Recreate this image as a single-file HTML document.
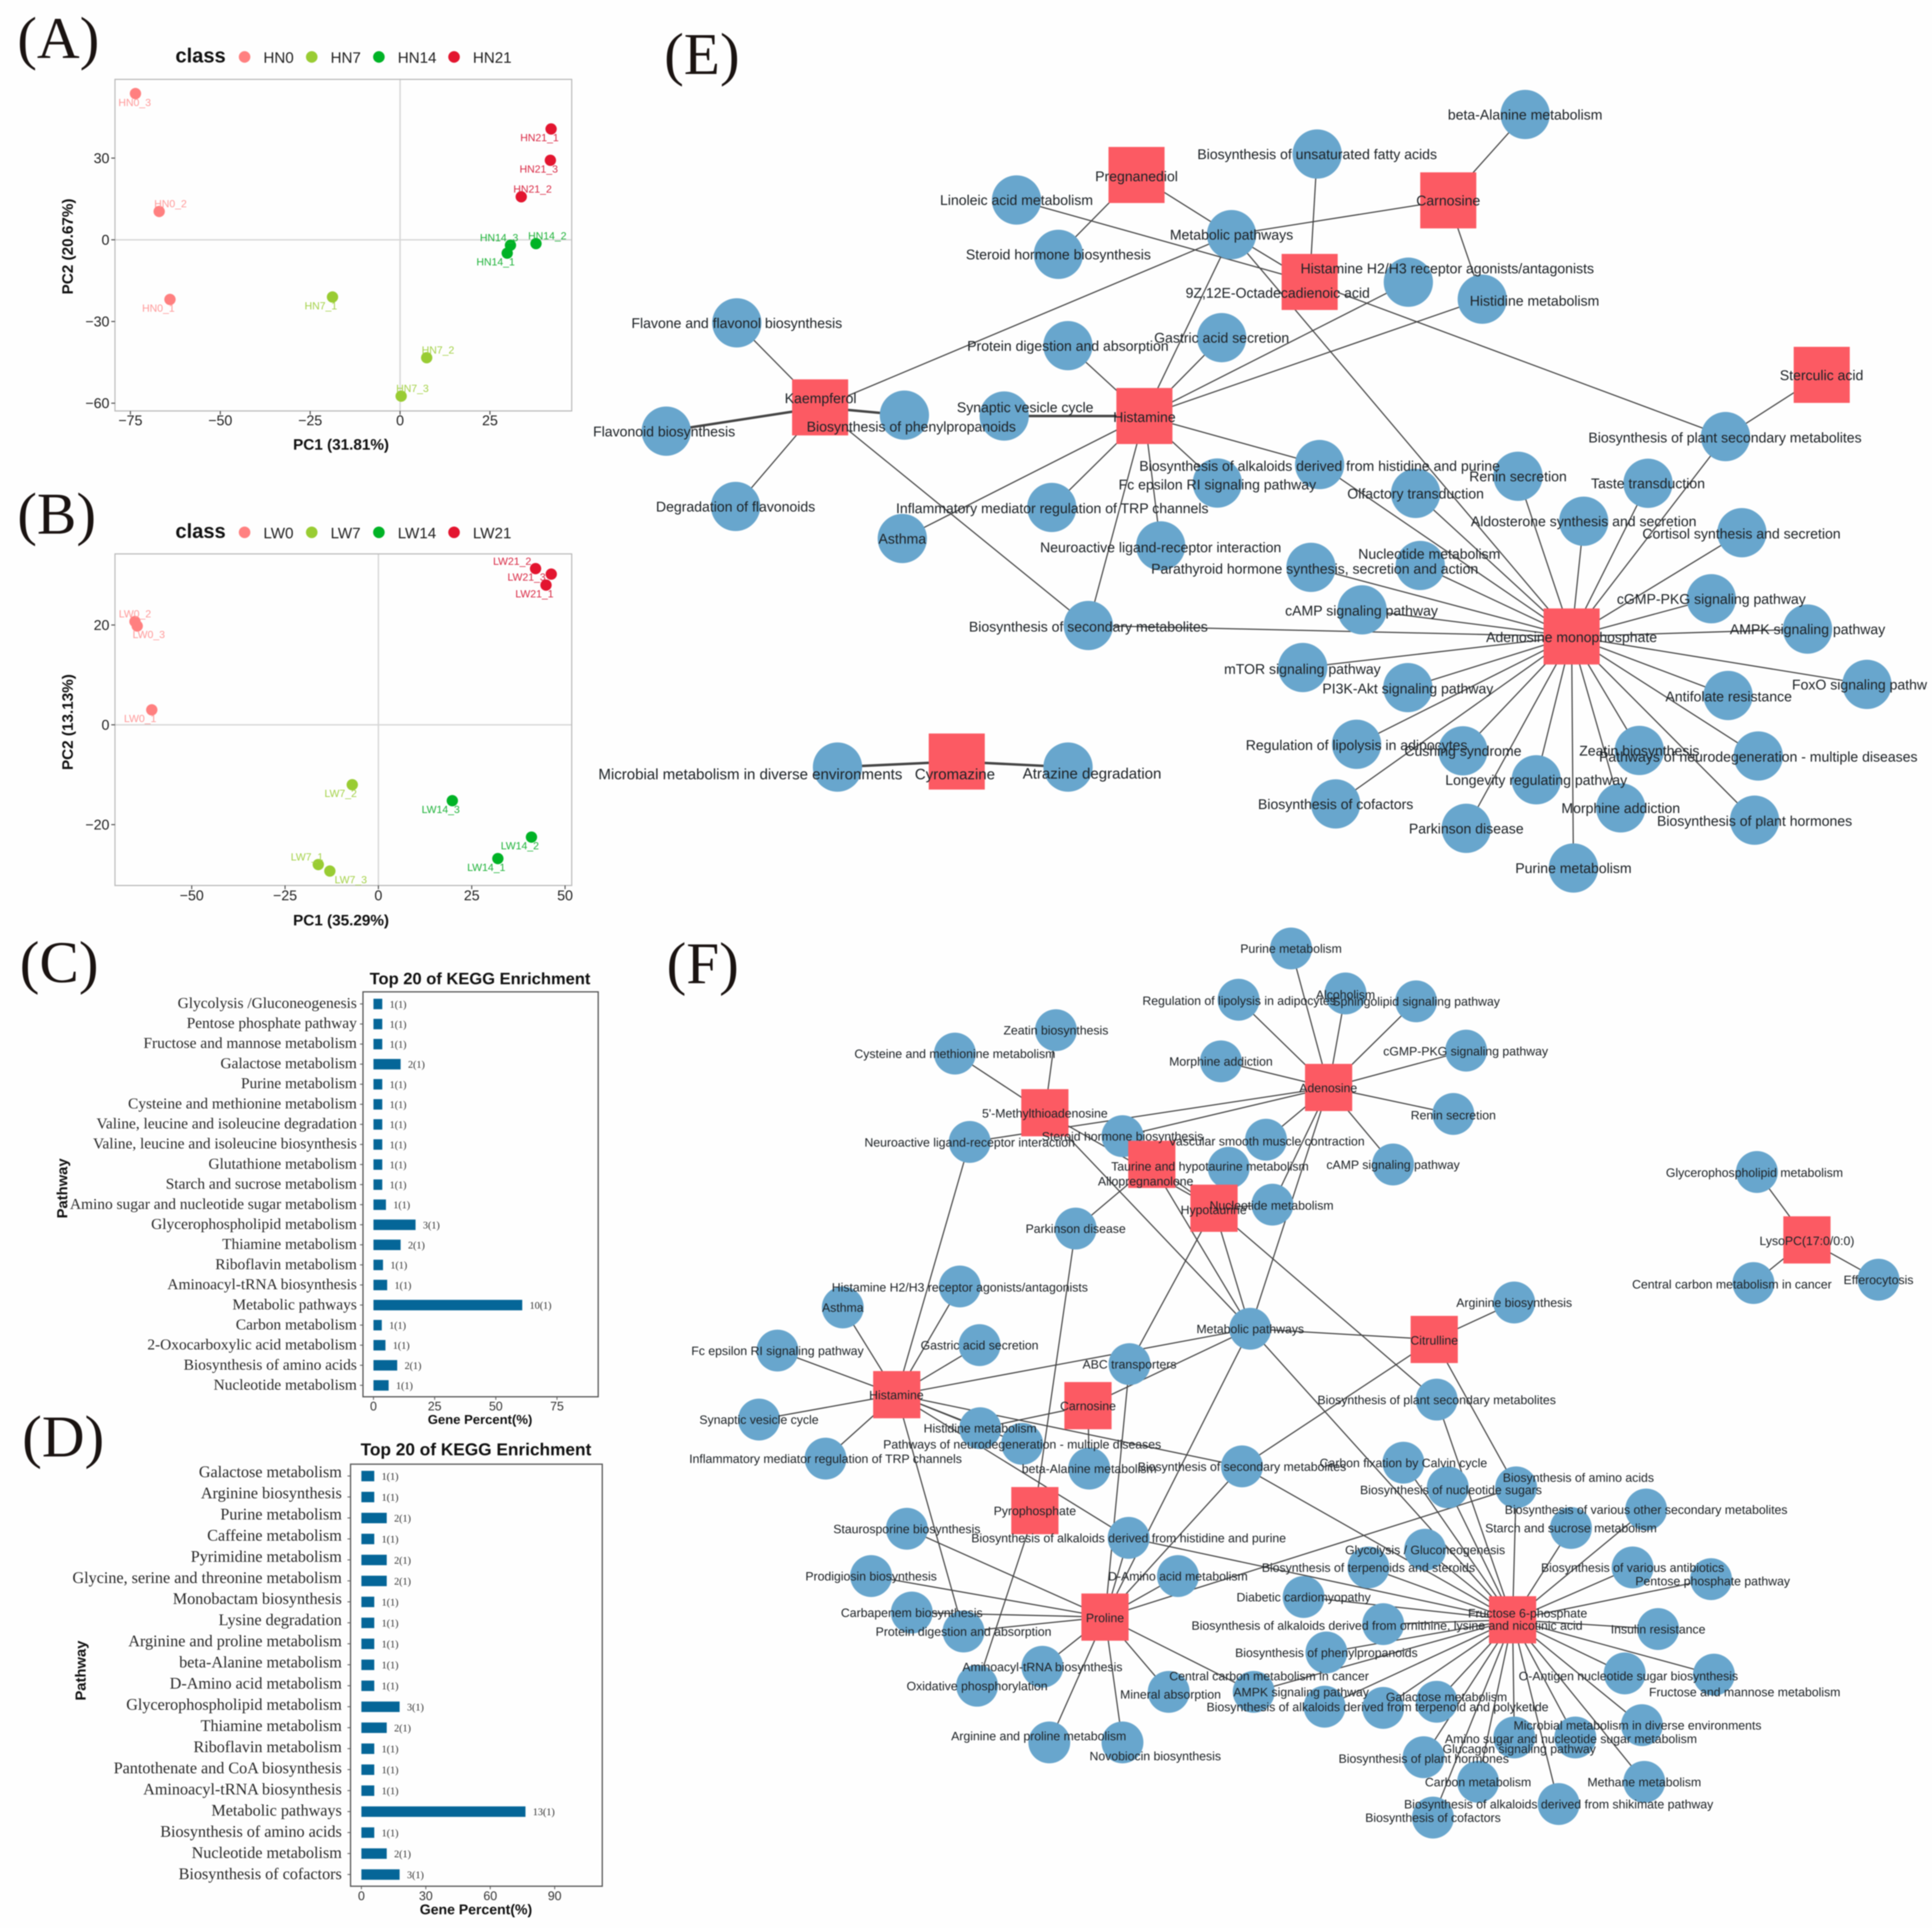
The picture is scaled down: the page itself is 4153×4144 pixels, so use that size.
<!DOCTYPE html>
<html lang="en">
<head>
<meta charset="utf-8">
<title>PCA, KEGG enrichment and metabolite-pathway networks</title>
<style>
html,body{margin:0;padding:0;background:#fefefe;width:4153px;height:4144px;overflow:hidden}
svg{display:block;filter:blur(1.1px)}
text{font-family:"Liberation Sans",sans-serif}
.serif{font-family:"Liberation Serif",serif}
</style>
</head>
<body>
<svg id="fig" xmlns="http://www.w3.org/2000/svg" width="4153" height="4144" viewBox="0 0 1568 1564.6">
<defs><clipPath id="eClip"><rect x="0" y="0" width="1564.5" height="1565"/></clipPath></defs>
<rect x="0" y="0" width="1568" height="1565" fill="#fefefe"/>
<text class="serif" x="14" y="47" font-size="48" fill="#1a1311">(A)</text>
<text class="serif" x="14" y="433" font-size="48" fill="#1a1311">(B)</text>
<text class="serif" x="16" y="797" font-size="48" fill="#1a1311">(C)</text>
<text class="serif" x="18" y="1182" font-size="48" fill="#1a1311">(D)</text>
<text class="serif" x="539" y="60" font-size="48" fill="#1a1311">(E)</text>
<text class="serif" x="541" y="798" font-size="48" fill="#1a1311">(F)</text>
<g id="panelA"></g>
<g id="panelB"></g>
<g id="panelC"></g>
<g id="panelD"></g>
<g id="panelE" clip-path="url(#eClip)"></g>
<g id="panelF"></g>
</svg>
<script>
/* ---------- PCA panel A data ---------- */
const hnSamples = ["HN0_1","HN0_2","HN0_3","HN7_1","HN7_2","HN7_3","HN14_1","HN14_2","HN14_3","HN21_1","HN21_2","HN21_3"];
const hnPC1 = [-64,-67,-73.6,-18.8,7.4,0.3,29.8,37.8,30.7,42,33.7,41.8];
const hnPC2 = [-21.9,10.4,53.7,-21,-43.3,-57.4,-4.9,-1.4,-2,40.7,15.8,29.2];
const hnGroup = [0,0,0,1,1,1,2,2,2,3,3,3];
const hnPlacement = ["BL","TR","B","BL","TR","TR","BL","TR","TL","BL","TR","BL"];
const hnClasses = ["HN0","HN7","HN14","HN21"];
const aXTicks = [-75,-50,-25,0,25];
const aYTicks = [-60,-30,0,30];

/* ---------- PCA panel B data ---------- */
const lwSamples = ["LW0_1","LW0_2","LW0_3","LW7_1","LW7_2","LW7_3","LW14_1","LW14_2","LW14_3","LW21_1","LW21_2","LW21_3"];
const lwPC1 = [-60.7,-65.2,-64.6,-16.1,-7,-13,32,41,19.8,44.9,42.1,46.3];
const lwPC2 = [3,20.7,19.8,-28,-12,-29.3,-26.8,-22.5,-15.2,28,31.3,30.2];
const lwGroup = [0,0,0,1,1,1,2,2,2,3,3,3];
const lwPlacement = ["BL","T","BR","TL","BL","BRR","BL","BL","BL","BL","TLL","LL"];
const lwClasses = ["LW0","LW7","LW14","LW21"];
const bXTicks = [-50,-25,0,25,50];
const bYTicks = [-20,0,20];

/* ---------- KEGG bars panel C data ---------- */
const cCategories = ["Glycolysis /Gluconeogenesis","Pentose phosphate pathway","Fructose and mannose metabolism","Galactose metabolism","Purine metabolism","Cysteine and methionine metabolism","Valine, leucine and isoleucine degradation","Valine, leucine and isoleucine biosynthesis","Glutathione metabolism","Starch and sucrose metabolism","Amino sugar and nucleotide sugar metabolism","Glycerophospholipid metabolism","Thiamine metabolism","Riboflavin metabolism","Aminoacyl-tRNA biosynthesis","Metabolic pathways","Carbon metabolism","2-Oxocarboxylic acid metabolism","Biosynthesis of amino acids","Nucleotide metabolism"];
const cPercents = [3.6,3.6,3.6,11.1,3.6,3.6,3.6,3.6,3.6,3.6,5.1,17.2,11.1,3.9,5.6,60.8,3.4,4.9,9.7,6.2];
const cCounts = ["1(1)","1(1)","1(1)","2(1)","1(1)","1(1)","1(1)","1(1)","1(1)","1(1)","1(1)","3(1)","2(1)","1(1)","1(1)","10(1)","1(1)","1(1)","2(1)","1(1)"];
const cXTicks = [0,25,50,75];

/* ---------- KEGG bars panel D data ---------- */
const dCategories = ["Galactose metabolism","Arginine biosynthesis","Purine metabolism","Caffeine metabolism","Pyrimidine metabolism","Glycine, serine and threonine metabolism","Monobactam biosynthesis","Lysine degradation","Arginine and proline metabolism","beta-Alanine metabolism","D-Amino acid metabolism","Glycerophospholipid metabolism","Thiamine metabolism","Riboflavin metabolism","Pantothenate and CoA biosynthesis","Aminoacyl-tRNA biosynthesis","Metabolic pathways","Biosynthesis of amino acids","Nucleotide metabolism","Biosynthesis of cofactors"];
const dPercents = [6,6,11.8,6,11.8,11.8,6,6,6,6,6,17.8,11.8,6,6,6,76.4,6,11.8,17.8];
const dCounts = ["1(1)","1(1)","2(1)","1(1)","2(1)","2(1)","1(1)","1(1)","1(1)","1(1)","1(1)","3(1)","2(1)","1(1)","1(1)","1(1)","13(1)","1(1)","2(1)","3(1)"];
const dXTicks = [0,30,60,90];

/* ---------- Network E: [id,label,x,y,labelX,labelY,fontSize] ---------- */
const eSquares = [
["kae","Kaempferol",665.6,330.6,666,323],["hst","Histamine",928.8,337.6,928.8,338.3],["pre","Pregnanediol",922.4,142,922.4,143],
["car","Carnosine",1175.4,162.6,1175.4,162.6],["oct","9Z,12E-Octadecadienoic acid",1062.9,228.8,1037,237.5],
["ste","Sterculic acid",1478.5,304.2,1478.4,304.3],["amp","Adenosine monophosphate",1275.5,516.5,1275.5,517],["cyr","Cyromazine",776.5,618,775,628,12.2]];
const eCircles = [
["bal","beta-Alanine metabolism",1237.8,92.9],["unf","Biosynthesis of unsaturated fatty acids",1069,125],["lin","Linoleic acid metabolism",825,162.3],
["shb","Steroid hormone biosynthesis",859,206.4],["met","Metabolic pathways",999.5,190.4],["h23","Histamine H2/H3 receptor agonists/antagonists",1143,229,1174.6,217.7],
["his","Histidine metabolism",1203,242.8,1245.4,244],["flv","Flavone and flavonol biosynthesis",598,262],["pdi","Protein digestion and absorption",866.7,280.5],
["gas","Gastric acid secretion",991.5,274],["fla","Flavonoid biosynthesis",540.7,349.9,539,350],["phe","Biosynthesis of phenylpropanoids",734,336.9,739.6,346],
["syn","Synaptic vesicle cycle",815,337.6,832,330.4],["deg","Degradation of flavonoids",597,411],["alk","Biosynthesis of alkaloids derived from histidine and purine",1071,377,1071,378],
["fce","Fc epsilon RI signaling pathway",988,392,988,393],["inf","Inflammatory mediator regulation of TRP channels",853.6,411.8,854,412.3],["ast","Asthma",732.3,437],
["neu","Neuroactive ligand-receptor interaction",942,443,942,444],["sec","Biosynthesis of secondary metabolites",883.3,507.6,883.3,508.5],["pls","Biosynthesis of plant secondary metabolites",1400.4,354.3,1400,355],
["ren","Renin secretion",1232,386.5],["olf","Olfactory transduction",1148.9,400.4],["tas","Taste transduction",1337.5,392.2],["ald","Aldosterone synthesis and secretion",1285.3,423],
["cor","Cortisol synthesis and secretion",1413.7,432.3,1413.4,433],["nuc","Nucleotide metabolism",1152.7,458.9,1160,449.4],["pth","Parathyroid hormone synthesis, secretion and action",1064,460.4,1067,461.5],
["cam","cAMP signaling pathway",1105.5,494.9,1105,495.5],["cgm","cGMP-PKG signaling pathway",1388.9,485.9],["apk","AMPK signaling pathway",1467,510.5],
["fox","FoxO signaling pathway",1515.2,555.4],["mto","mTOR signaling pathway",1057.3,541.7,1057,542.7],["pi3","PI3K-Akt signaling pathway",1142.6,558,1142.6,558.7],
["ant","Antifolate resistance",1402.5,564.4,1403,565],["reg","Regulation of lipolysis in adipocytes",1101,604,1101,604.5],["cus","Cushing syndrome",1187.3,609.3],
["zea","Zeatin biosynthesis",1330.5,609],["pat","Pathways of neurodegeneration - multiple diseases",1427,613.5,1427,614],["lon","Longevity regulating pathway",1246.8,632.8],
["cof","Biosynthesis of cofactors",1084,652.4],["mor","Morphine addiction",1315.4,655.6],["hor","Biosynthesis of plant hormones",1424,665.6,1424,666],
["pak","Parkinson disease",1190,672.2],["pur","Purine metabolism",1277,704.4],["mic","Microbial metabolism in diverse environments",679.7,622.5,609,628,12.2],["atr","Atrazine degradation",866.8,622.5,886.3,627.5,12.2]];
const eLinks = {
kae:["flv","fla","phe","deg","sec","met"],
hst:["syn","pdi","gas","met","h23","his","alk","fce","inf","ast","neu","sec"],
pre:["shb","met"],car:["bal","met","his"],oct:["unf","met","lin","pls"],ste:["pls"],cyr:["mic","atr"],
amp:["alk","olf","ren","ald","tas","pls","cor","cgm","apk","fox","ant","pat","hor","zea","mor","pur","lon","pak","cus","cof","reg","pi3","mto","cam","sec","pth","nuc","met"]};
const eThick = ["kae-fla","kae-phe","hst-syn","cyr-mic","cyr-atr"];

/* ---------- Network F ---------- */
const fSquares = [
["mta","5'-Methylthioadenosine",848,903,848,903.4],["ade","Adenosine",1078.3,882.5,1078,882.8],["alo","Allopregnanolone",934.8,944.9,929.8,958.5],
["hyp","Hypotaurine",985.3,980.5,985,981.6],["cit","Citrulline",1164,1087,1164,1087.5],["hst","Histamine",727.8,1131.8,727.5,1132],
["car","Carnosine",883,1140.7,883,1140.8],["ppi","Pyrophosphate",839.9,1225.9,839.9,1226],["prl","Proline",896.8,1312.3,896.8,1312.8],
["fru","Fructose 6-phosphate",1227.6,1314.5,1239.8,1309],["lys","LysoPC(17:0/0:0)",1466.5,1006.2,1466.5,1006.8]];
const fCircles = [
["pur","Purine metabolism",1047.8,769.7],["reg","Regulation of lipolysis in adipocytes",1005.2,811.3,1005.7,812],["alc","Alcoholism",1092,806.2,1092,807],
["sph","Sphingolipid signaling pathway",1149.3,812.6],["cgm","cGMP-PKG signaling pathway",1189.9,852.6,1189.5,853],["zea","Zeatin biosynthesis",857,836],
["cys","Cysteine and methionine metabolism",775,855],["mor","Morphine addiction",990.9,861.3],["ren","Renin secretion",1179.5,904,1179.5,904.8],
["neu","Neuroactive ligand-receptor interaction",787,926.7,787,927],["ste","Steroid hormone biosynthesis",911,922],["vas","Vascular smooth muscle contraction",1027.5,924.9,1028,926],
["tau","Taurine and hypotaurine metabolism",997.2,947.7,982,946.4],["cam","cAMP signaling pathway",1130.6,945],["nuc","Nucleotide metabolism",1032.7,977.6,1032,978],
["par","Parkinson disease",873,997],["arb","Arginine biosynthesis",1228.9,1057],["gly","Glycerophospholipid metabolism",1425.9,951.1,1423.9,951.5],
["cen","Central carbon metabolism in cancer",1423.1,1041.2,1405.6,1042],["eff","Efferocytosis",1524.6,1038.5],["h23","Histamine H2/H3 receptor agonists/antagonists",779,1044,779,1044.6],
["ast","Asthma",684,1061],["met","Metabolic pathways",1014.7,1078.3],["gas","Gastric acid secretion",795,1091.6],["fce","Fc epsilon RI signaling pathway",631,1096],
["abc","ABC transporters",916.7,1107],["syn","Synaptic vesicle cycle",616,1152],["pls","Biosynthesis of plant secondary metabolites",1166,1135.8],
["his","Histidine metabolism",795.5,1159],["pat","Pathways of neurodegeneration - multiple diseases",829.6,1171.7,829.6,1172],["inf","Inflammatory mediator regulation of TRP channels",670,1183.7],
["bal","beta-Alanine metabolism",884,1191.8],["sec","Biosynthesis of secondary metabolites",1008,1190],["cal","Carbon fixation by Calvin cycle",1139,1187],
["nsu","Biosynthesis of nucleotide sugars",1175,1207,1177.6,1209],["ami","Biosynthesis of amino acids",1230.5,1207,1281,1199],["vos","Biosynthesis of various other secondary metabolites",1336,1225],
["sta","Starch and sucrose metabolism",1275,1240],["glc","Glycolysis / Gluconeogenesis",1156.6,1257.6],["ter","Biosynthesis of terpenoids and steroids",1110.6,1272],
["anb","Biosynthesis of various antibiotics",1325,1272],["pen","Pentose phosphate pathway",1388.7,1281.5,1390,1283],["dia","Diabetic cardiomyopathy",1058,1296],
["orn","Biosynthesis of alkaloids derived from ornithine, lysine and nicotinic acid",1122.6,1318,1125.7,1319],["ins","Insulin resistance",1345.7,1322],["phe","Biosynthesis of phenylpropanoids",1076.5,1341],
["oan","O-Antigen nucleotide sugar biosynthesis",1318.6,1358,1321.6,1360],["fma","Fructose and mannose metabolism",1391,1359,1416,1373],
["ccm","Central carbon metabolism in cancer",1017.5,1373,1030,1360],["apk","AMPK signaling pathway",1075,1385,1056,1373],["tpk","Biosynthesis of alkaloids derived from terpenoid and polyketide",1122.6,1386,1118,1385],
["gal","Galactose metabolism",1166,1381,1174,1377],["mic","Microbial metabolism in diverse environments",1332.6,1400,1329,1400],["asu","Amino sugar and nucleotide sugar metabolism",1278.5,1410,1275,1411],
["glu","Glucagon signaling pathway",1229,1410,1233,1419],["pho","Biosynthesis of plant hormones",1155.4,1426,1155.5,1427],["cbm","Carbon metabolism",1199.6,1446],["mth","Methane metabolism",1334.5,1446],
["shi","Biosynthesis of alkaloids derived from shikimate pathway",1265,1464],["cof","Biosynthesis of cofactors",1163,1475],["sau","Staurosporine biosynthesis",736,1240.6],
["pdg","Prodigiosin biosynthesis",707,1279],["cpm","Carbapenem biosynthesis",740,1308.6],["pdi","Protein digestion and absorption",782,1324],["aat","Aminoacyl-tRNA biosynthesis",846,1352.6],
["oxp","Oxidative phosphorylation",793,1368],["min","Mineral absorption",948.5,1373,950,1374.8],["apm","Arginine and proline metabolism",851.6,1414,843,1408.7],
["nov","Novobiocin biosynthesis",911,1414,937.6,1425],["dam","D-Amino acid metabolism",956,1279],["alk","Biosynthesis of alkaloids derived from histidine and purine",916,1248]];
const fLinks = {
ade:["pur","reg","alc","sph","cgm","mor","ren","cam","vas","neu","ste","nuc","met"],
mta:["zea","cys","met","hyp"],alo:["ste","par","met","hyp"],hyp:["tau","nuc","abc","met","pls"],
cit:["arb","met","sec","ami"],hst:["ast","h23","fce","syn","inf","gas","neu","met","his","pat","alk","sec","pdi"],
car:["his","bal","met"],ppi:["par","oxp"],
prl:["met","abc","alk","sec","dam","ami","sau","pdg","cpm","pdi","aat","apm","nov","min","ccm"],
fru:["nsu","pls","cal","sta","vos","glc","ter","anb","pen","dia","orn","ins","phe","oan","fma","ccm","apk","tpk","gal","mic","asu","glu","pho","cbm","mth","shi","cof","alk","sec","met","ami"],
lys:["gly","cen","eff"]};

/* ---------- drawing helpers ---------- */
const NS = "http://www.w3.org/2000/svg";
function mk(tag, attrs, parent, txt){
  const el = document.createElementNS(NS, tag);
  for (const k in attrs) el.setAttribute(k, attrs[k]);
  if (txt !== undefined) el.textContent = txt;
  parent.appendChild(el);
  return el;
}
const classColors = ["#ff8080","#99cc33","#00b326","#e3152f"];
const labelColors = ["#ff9a9a","#a5d24a","#1fb33a","#d92a45"];
const placements = {BL:[-9.4,7],TR:[9.2,-6.4],TL:[-9.2,-6.3],BR:[9.4,6.9],T:[0,-6.4],B:[-0.6,7.2],BRR:[17,6.9],TLL:[-19,-6],LL:[-20,2.3]};
const minus = v => v < 0 ? "\u2212" + Math.abs(v) : String(v);

function drawPCA(cfg){
  const g = cfg.root;
  const sx = v => cfg.x0 + v * cfg.xUnit;
  const sy = v => cfg.y0 - v * cfg.yUnit;
  const f = cfg.frame;
  const t = mk("text",{x:142.4,y:cfg.legendY+4.4,"font-size":16.3,"font-weight":"bold",fill:"#111"},g,"class");
  
  
  const lx = [198.5,253,307.5,368.5];
  cfg.classes.forEach((c,i)=>{
    const d = mk("circle",{cx:lx[i],cy:cfg.legendY,r:4.7,fill:classColors[i]},g);
    
    
    const l = mk("text",{x:lx[i]+15.3,y:cfg.legendY+4.8,"font-size":12.3,fill:"#222"},g,c);
    
    
  });
  const h = mk("line",{x1:f.l,x2:f.r,y1:sy(0),y2:sy(0),stroke:"#d6d6d6","stroke-width":1.1},g);
  
  
  const v = mk("line",{x1:sx(0),x2:sx(0),y1:f.t,y2:f.b,stroke:"#d6d6d6","stroke-width":1.1},g);
  
  
  const fr = mk("rect",{x:f.l,y:f.t,width:f.r-f.l,height:f.b-f.t,fill:"none",stroke:"#b8b8b8","stroke-width":0.9},g);
  
  
  cfg.xTicks.forEach(tv=>{
    const m = mk("line",{x1:sx(tv),x2:sx(tv),y1:f.b,y2:f.b+3,stroke:"#444","stroke-width":0.8},g);
    
    
    const l = mk("text",{x:sx(tv),y:cfg.xTickY,"font-size":11.5,"text-anchor":"middle",fill:"#222"},g,minus(tv));
    
    
  });
  cfg.yTicks.forEach(tv=>{
    const m = mk("line",{x1:f.l-3,x2:f.l,y1:sy(tv),y2:sy(tv),stroke:"#444","stroke-width":0.8},g);
    
    
    const l = mk("text",{x:f.l-4.5,y:sy(tv)+4,"font-size":11.5,"text-anchor":"end",fill:"#222"},g,minus(tv));
    
    
  });
  const xt = mk("text",{x:276.8,y:cfg.xTitleY,"font-size":12.4,"font-weight":"bold","text-anchor":"middle",fill:"#111"},g,cfg.xTitle);
  
  
  const yt = mk("text",{x:59,y:cfg.yTitleC,"font-size":12.4,"font-weight":"bold","text-anchor":"middle",fill:"#111",transform:"rotate(-90 59 "+cfg.yTitleC+")"},g,cfg.yTitle);
  
  
  cfg.samples.forEach((s,i)=>{
    const c = mk("circle",{cx:sx(cfg.px[i]),cy:sy(cfg.py[i]),r:4.6,fill:classColors[cfg.group[i]]},g);
    
    
    const o = placements[cfg.place[i]];
    const l = mk("text",{x:sx(cfg.px[i])+o[0],y:sy(cfg.py[i])+o[1]+3,"font-size":8.5,"text-anchor":"middle",fill:labelColors[cfg.group[i]]},g,s);
    
    
  });
}

function drawBars(cfg){
  const g = cfg.root, f = cfg.frame;
  const sx = v => cfg.x0 + v * cfg.xUnit;
  const sy = i => cfg.y0 + i * cfg.step;
  const t = mk("text",{x:cfg.tx,y:cfg.titleY,"font-size":cfg.titleFont,"font-weight":"bold","text-anchor":"middle",fill:"#111"},g,"Top 20 of KEGG Enrichment");
  
  
  const fr = mk("rect",{x:f.l,y:f.t,width:f.r-f.l,height:f.b-f.t,fill:"none",stroke:"#555","stroke-width":1},g);
  
  
  cfg.cats.forEach((c,i)=>{
    const l = mk("text",{x:cfg.catEnd,y:cfg.catY0+i*cfg.catStep,"font-size":cfg.catFont,"text-anchor":"end",fill:"#2a2a2a"},g,c);
    l.classList.add("serif");
    
    
    const m = mk("line",{x1:f.l-2.5,x2:f.l,y1:sy(i),y2:sy(i),stroke:"#555","stroke-width":0.7},g);
    
    
    const b = mk("rect",{x:sx(0),y:sy(i)-4.2,width:cfg.vals[i]*cfg.xUnit,height:8.5,fill:"#056698"},g);
    
    
    const v = mk("text",{x:sx(cfg.vals[i])+6,y:sy(i)+3,"font-size":8.2,fill:"#333"},g,cfg.counts[i]);
    v.classList.add("serif");
    
    
  });
  cfg.xTicks.forEach(tv=>{
    const m = mk("line",{x1:sx(tv),x2:sx(tv),y1:f.b,y2:f.b+2.5,stroke:"#555","stroke-width":0.7},g);
    
    
    const l = mk("text",{x:sx(tv),y:cfg.xTickY,"font-size":10,"text-anchor":"middle",fill:"#333"},g,String(tv));
    
    
  });
  const xt = mk("text",{x:cfg.tx,y:cfg.xTitleY,"font-size":cfg.xTitleFont,"font-weight":"bold","text-anchor":"middle",fill:"#111"},g,"Gene Percent(%)");
  
  
  const yt = mk("text",{x:cfg.yTitleX,y:cfg.yTitleC,"font-size":12,"font-weight":"bold","text-anchor":"middle",fill:"#111",transform:"rotate(-90 "+cfg.yTitleX+" "+cfg.yTitleC+")"},g,"Pathway");
  
  
}

function drawNetwork(root, squares, circles, links, thick, style){
  const pos = {};
  squares.forEach(n=>{pos[n[0]] = n;});
  circles.forEach(n=>{pos[n[0]] = n;});
  Object.keys(links).forEach(hub=>{
    links[hub].forEach(o=>{
      const a = pos[hub], b = pos[o];
      const w = thick.indexOf(hub+"-"+o) >= 0 ? 2 : 0.95;
      const e = mk("line",{x1:a[2],y1:a[3],x2:b[2],y2:b[3],stroke:"#444","stroke-width":w},root);
      
      
    });
  });
  circles.forEach(n=>{
    const c = mk("circle",{cx:n[2],cy:n[3],r:style.r,fill:"#68a6cd"},root);
    
    
  });
  squares.forEach(n=>{
    const s = mk("rect",{x:n[2]-style.s/2,y:n[3]-style.s/2,width:style.s,height:style.s,fill:"#fc5a63"},root);
    
    
  });
  squares.concat(circles).forEach(n=>{
    const lx = n[4] !== undefined ? n[4] : n[2];
    const ly = n[5] !== undefined ? n[5] : n[3];
    const fs = n[6] !== undefined ? n[6] : style.font;
    const l = mk("text",{x:lx,y:ly+fs*0.36,"font-size":fs,"text-anchor":"middle",fill:"#1d2226"},root,n[1]);
    
    
  });
}

drawPCA({root:document.getElementById("panelA"),x0:324.7,xUnit:2.918,y0:194.6,yUnit:2.21,frame:{l:93.3,r:464,t:64.4,b:333.5},
  samples:hnSamples,px:hnPC1,py:hnPC2,group:hnGroup,place:hnPlacement,classes:hnClasses,xTicks:aXTicks,yTicks:aYTicks,
  legendY:46.2,xTickY:345,xTitleY:365,yTitleC:200,xTitle:"PC1 (31.81%)",yTitle:"PC2 (20.67%)"});
drawPCA({root:document.getElementById("panelB"),x0:307.1,xUnit:3.03,y0:588.2,yUnit:4.05,frame:{l:93.3,r:464,t:449.5,b:718.6},
  samples:lwSamples,px:lwPC1,py:lwPC2,group:lwGroup,place:lwPlacement,classes:lwClasses,xTicks:bXTicks,yTicks:bYTicks,
  legendY:432,xTickY:730.5,xTitleY:751,yTitleC:586,xTitle:"PC1 (35.29%)",yTitle:"PC2 (13.13%)"});
drawBars({root:document.getElementById("panelC"),x0:303.1,xUnit:1.986,y0:814.7,step:16.29,frame:{l:294.6,r:485.5,t:804.9,b:1133.5},
  cats:cCategories,vals:cPercents,counts:cCounts,xTicks:cXTicks,catEnd:289.6,catFont:12.5,catY0:817.9,catStep:16.31,titleFont:13.4,xTitleFont:10.6,tx:389.6,titleY:798.8,xTickY:1144.5,xTitleY:1155.5,yTitleX:54.5,yTitleC:964.4});
drawBars({root:document.getElementById("panelD"),x0:293.3,xUnit:1.743,y0:1197.8,step:17.02,frame:{l:284.5,r:488.8,t:1188.2,b:1530.7},
  cats:dCategories,vals:dPercents,counts:dCounts,xTicks:dXTicks,catEnd:277.4,catFont:13.1,catY0:1198.7,catStep:17.17,titleFont:14,xTitleFont:11.4,tx:386.3,titleY:1181,xTickY:1542,xTitleY:1553.5,yTitleX:69.5,yTitleC:1355.7});
drawNetwork(document.getElementById("panelE"),eSquares,eCircles,eLinks,eThick,{r:20,s:45.5,font:11.4});
drawNetwork(document.getElementById("panelF"),fSquares,fCircles,fLinks,[],{r:17,s:38.3,font:9.95});
</script>
</body>
</html>
